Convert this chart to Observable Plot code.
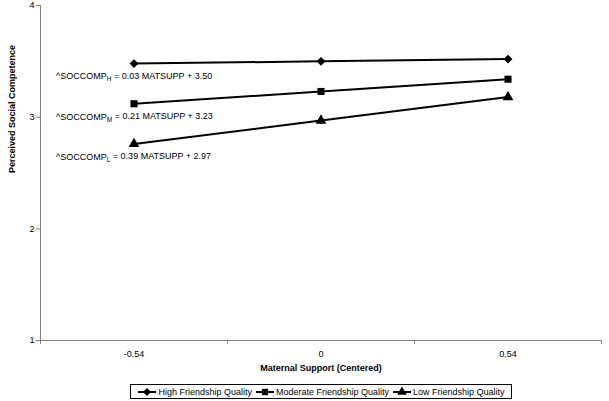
<!DOCTYPE html>
<html><head><meta charset="utf-8">
<script src="https://cdn.jsdelivr.net/npm/d3@7"></script>
<script src="https://cdn.jsdelivr.net/npm/@observablehq/plot@0.6"></script>
<style>
body{margin:0;background:#fff;font-family:"Liberation Sans",Arial,sans-serif;}
#legend{margin:4px 0 0 130px;width:380px;height:13px;border:1px solid #000;box-sizing:content-box;display:flex;align-items:center;justify-content:center;gap:3px;font-size:9px;color:#000;white-space:nowrap;}
#legend .item{display:flex;align-items:center;}
#legend svg{display:block;margin-right:1px;}
</style></head><body><div id="chart"></div><script>
const matsupp = [-0.54, 0, 0.54];
const seriesNames = ["High Friendship Quality", "Moderate Friendship Quality", "Low Friendship Quality"];
const subscripts = ["H", "M", "L"];
const highValues = [3.48, 3.50, 3.52];
const moderateValues = [3.12, 3.23, 3.34];
const lowValues = [2.76, 2.97, 3.18];
const slopes = ["0.03", "0.21", "0.39"];
const intercepts = ["3.50", "3.23", "2.97"];
const yTicks = [1, 2, 3, 4];
const symbolNames = ["diamond2", "square", "triangle"];
const d3Symbols = [d3.symbolDiamond2, d3.symbolSquare, d3.symbolTriangle];

const seriesValues = [highValues, moderateValues, lowValues];
const rows = seriesValues.flatMap((vals, s) => vals.map((v, i) => ({series: seriesNames[s], x: matsupp[i], y: v, symbol: symbolNames[s]})));
const labelRows = seriesValues.map((vals, s) => ({x: matsupp[0], y: vals[0], text: `^SOCCOMP|${subscripts[s]}| = ${slopes[s]} MATSUPP + ${intercepts[s]}`}));

const step = matsupp[1] - matsupp[0];
const xDomain = [d3.min(matsupp) - step / 2, d3.max(matsupp) + step / 2];
const boundaries = d3.range(matsupp.length + 1).map(i => xDomain[0] + i * step);
const yDomain = [d3.min(yTicks), d3.max(yTicks)];
const axisGray = "#808080";

const chart = Plot.plot({
  width: 609, height: 380,
  marginLeft: 40, marginRight: 8, marginTop: 5, marginBottom: 40,
  style: {fontFamily: "'Liberation Sans', Arial, sans-serif", fontSize: "9px", background: "white", color: "black"},
  x: {domain: xDomain},
  y: {domain: yDomain},
  symbol: {domain: symbolNames, range: symbolNames},
  marks: [
    Plot.ruleY([yDomain[0]], {stroke: axisGray}),
    Plot.ruleX([xDomain[0]], {stroke: axisGray}),
    Plot.axisY(yTicks, {tickSize: 4, tickPadding: 2, stroke: axisGray, fill: "black", label: null, tickFormat: d => String(d)}),
    Plot.axisX(boundaries, {tickSize: 4, stroke: axisGray, tickFormat: () => "", label: null}),
    Plot.axisX(matsupp, {tickSize: 0, tickPadding: 10, fill: "black", tickFormat: d => String(d), label: null}),
    Plot.text(["Perceived Social Competence"], {frameAnchor: "left", rotate: -90, dx: -28, fontWeight: "bold", fontSize: 9}),
    Plot.text(["Maternal Support (Centered)"], {frameAnchor: "bottom", dy: 30, fontWeight: "bold", fontSize: 9}),
    Plot.line(rows, {x: "x", y: "y", z: "series", stroke: "black", strokeWidth: 2}),
    Plot.dot(rows, {x: "x", y: "y", symbol: "symbol", fill: "black", r: 4}),
    Plot.text(labelRows, {
      x: "x", y: "y", text: "text", dx: -78, dy: 13, textAnchor: "start", fontSize: 9, fill: "black",
      render(index, scales, values, dims, ctx, next) {
        const g = next(index, scales, values, dims, ctx);
        d3.select(g).selectAll("text").each(function () {
          const parts = this.textContent.split("|");
          const t = d3.select(this);
          t.text(null);
          t.append("tspan").text(parts[0]);
          t.append("tspan").attr("font-size", 6.5).attr("dy", "0.3em").text(parts[1]);
          t.append("tspan").attr("dy", "-0.3em").text(parts[2]);
        });
        return g;
      }
    })
  ]
});
document.getElementById("chart").appendChild(chart);

const legend = d3.select("body").append("div").attr("id", "legend");
seriesNames.forEach((name, s) => {
  const item = legend.append("div").attr("class", "item");
  const svg = item.append("svg").attr("width", 20).attr("height", 10);
  svg.append("line").attr("x1", 1).attr("x2", 19).attr("y1", 5).attr("y2", 5).attr("stroke", "black").attr("stroke-width", 2);
  svg.append("path").attr("transform", "translate(10,5)").attr("d", d3.symbol(d3Symbols[s], 40)()).attr("fill", "black");
  item.append("span").text(name);
});
</script></body></html>
